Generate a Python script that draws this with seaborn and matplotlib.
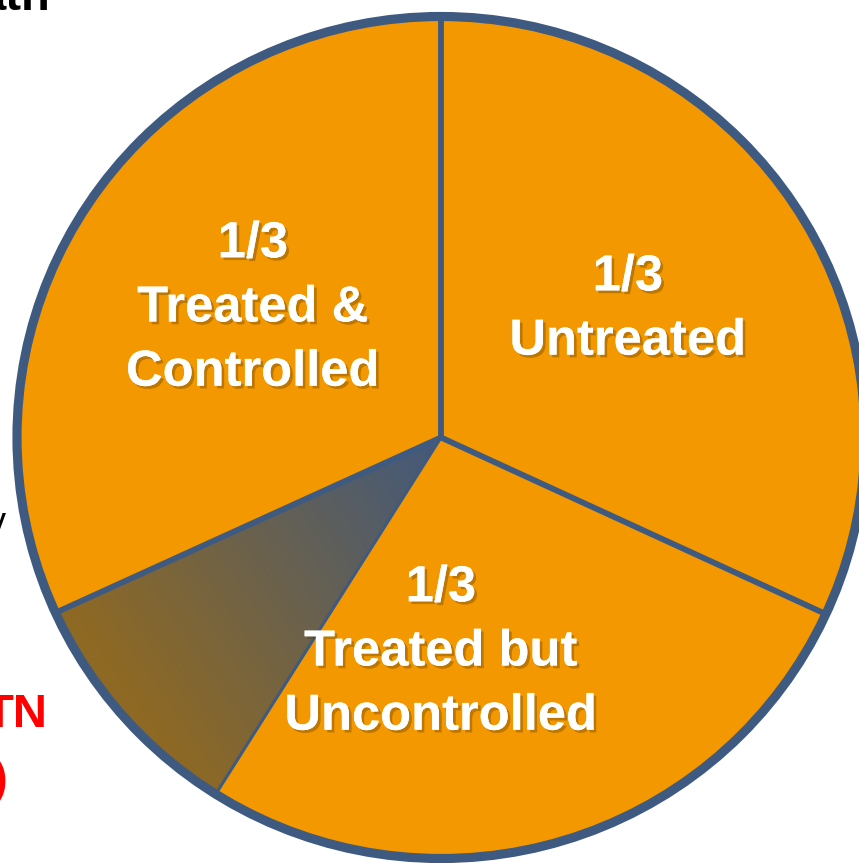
import matplotlib
matplotlib.use("Agg")
import matplotlib.pyplot as plt
import matplotlib.patheffects as pe
from matplotlib.patches import Ellipse
import numpy as np
import seaborn as sns

sns.set_theme(style="white")
plt.rcParams["font.family"] = ["Liberation Sans", "DejaVu Sans"]

# Slice data (angular sizes in degrees)
segments = ["Treated & Controlled", "shaded", "Treated but Uncontrolled", "Untreated"]
sizes = [114.6, 33.3, 97.3, 114.8]
fractions = ["1/3", "", "1/3", "1/3"]
names = ["Treated &\nControlled", "", "Treated but\nUncontrolled", "Untreated"]

orange = "#F39800"
edge = "#3F5A80"

W, H = 859, 863
fig = plt.figure(figsize=(W / 100, H / 100), dpi=100)
ax = fig.add_axes([0, 0, 1, 1])

# pixel geometry of the pie
cx, cy, rx, ry = 441, 437.5, 424, 421

wedges, _ = ax.pie(sizes, startangle=90, counterclock=True, radius=1,
                   colors=[orange] * len(sizes),
                   wedgeprops=dict(linewidth=0))

# gradient fill for the shaded wedge
shade = wedges[1]
gx = np.linspace(-1.1, 1.1, 400)
gy = np.linspace(-1.1, 1.1, 400)
GX, GY = np.meshgrid(gx, gy)
d = np.array([0.8, 0.55])
d = d / np.linalg.norm(d)
t = GX * d[0] + GY * d[1]
t = np.clip((t + 0.95) / 0.95, 0, 1)
c0 = np.array([0x8E, 0x69, 0x24]) / 255
c1 = np.array([0x42, 0x59, 0x7C]) / 255
img = c0[None, None, :] * (1 - t[..., None]) + c1[None, None, :] * t[..., None]
im = ax.imshow(img, extent=(-1.1, 1.1, -1.1, 1.1), origin="lower", zorder=2)
im.set_clip_path(shade)

# outline and radial borders
ax.add_patch(Ellipse((0, 0), 2.0, 2.0, fill=False, edgecolor=edge, linewidth=6.6, zorder=4))
angles = 90 + np.cumsum([0] + sizes[:-1])
widths = [4.2, 4.2, 2.2, 4.2]
for a, lw in zip(angles, widths):
    r = np.deg2rad(a)
    ax.plot([0, np.cos(r)], [0, np.sin(r)], color=edge, linewidth=lw,
            solid_capstyle="butt", zorder=4)

# slice labels (pixel centres converted to data units)
label_px = [(253, 308), None, (441, 652), (628, 309)]
shadow = [pe.withSimplePatchShadow(offset=(2, -2), shadow_rgbFace="#5a3a00", alpha=0.35),
          pe.Normal()]
for frac, name, pos in zip(fractions, names, label_px):
    if pos is None:
        continue
    ax.text((pos[0] - cx) / rx, (cy - pos[1]) / ry, frac + "\n" + name,
            ha="center", va="center", color="white", fontsize=36.5,
            fontweight="bold", linespacing=1.4, path_effects=shadow, zorder=5)

ax.set_xlim(-cx / rx, (W - cx) / rx)
ax.set_ylim(-(H - cy) / ry, cy / ry)
ax.set_aspect("auto")
ax.axis("off")

# cut-off slide text on the left edge
fig.text(50 / W, 1 - 10 / H, "ath", ha="right", va="baseline", fontsize=34,
         fontweight="bold", color="black")
fig.text(6 / W, 1 - 533 / H, "y", ha="right", va="baseline", fontsize=26, color="black")
fig.text(47 / W, 1 - 727 / H, "TN", ha="right", va="baseline", fontsize=34,
         fontweight="bold", color="#FF0000")
fig.text(8 / W, 1 - 793 / H, ")", ha="right", va="baseline", fontsize=34,
         fontweight="bold", color="#FF0000")

fig.savefig("out.png", dpi=100, facecolor="white")
